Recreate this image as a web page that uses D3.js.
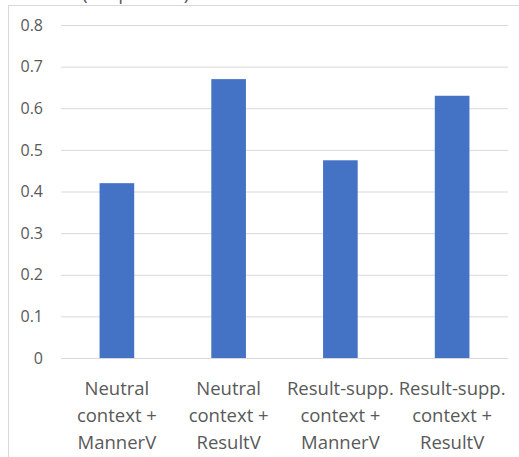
<!DOCTYPE html>
<html>
<head>
<meta charset="utf-8">
<script src="https://cdn.jsdelivr.net/npm/d3@7/dist/d3.min.js"></script>
<style>
  html, body { margin: 0; padding: 0; background: #fff; }
  svg { display: block; }
  text { font-family: "Open Sans", "Noto Sans", sans-serif; fill: #595959; }
</style>
</head>
<body>
<script>
// Chart data
const categories = [
  ["Neutral", "context +", "MannerV"],
  ["Neutral", "context +", "ResultV"],
  ["Result-supp.", "context +", "MannerV"],
  ["Result-supp.", "context +", "ResultV"]
];
const values = [0.42, 0.67, 0.475, 0.63];
const yTicks = [0, 0.1, 0.2, 0.3, 0.4, 0.5, 0.6, 0.7, 0.8];
const yTitle = "(Proportion)";

const W = 519, H = 457;
const plot = { left: 61, right: 508, top: 25, bottom: 358 };

const svg = d3.select("body").append("svg")
  .attr("width", W).attr("height", H);

// Chart frame (top and left edges)
svg.append("line")
  .attr("x1", 8.5).attr("x2", 8.5).attr("y1", 5).attr("y2", H)
  .attr("stroke", "#d9d9d9").attr("stroke-width", 1);
svg.append("line")
  .attr("x1", 8).attr("x2", W).attr("y1", 5.5).attr("y2", 5.5)
  .attr("stroke", "#d9d9d9").attr("stroke-width", 1);

// Axis title, mostly above the visible area
svg.append("text")
  .attr("x", 82).attr("y", 0)
  .attr("font-size", 19)
  .attr("fill", "#404040")
  .text(yTitle);

const x = d3.scaleBand()
  .domain(d3.range(categories.length))
  .range([plot.left, plot.right])
  .paddingInner(0.69)
  .paddingOuter(0.345);

const y = d3.scaleLinear()
  .domain([0, 0.8])
  .range([plot.bottom, plot.top]);

// Value axis with gridlines
const yAxis = svg.append("g")
  .attr("transform", `translate(${plot.left},0)`)
  .call(d3.axisLeft(y)
    .tickValues(yTicks)
    .tickSize(-(plot.right - plot.left))
    .tickPadding(18)
    .tickFormat(d => d === 0 ? "0" : d3.format(".1f")(d)));
yAxis.select(".domain").remove();
yAxis.selectAll(".tick line")
  .attr("stroke", "#d9d9d9").attr("stroke-width", 1);
yAxis.selectAll(".tick text")
  .attr("font-size", 16)
  .attr("font-family", "'Open Sans', 'Noto Sans', sans-serif")
  .attr("fill", "#595959");

// Bars
svg.append("g").selectAll("rect")
  .data(values)
  .join("rect")
  .attr("x", (d, i) => x(i))
  .attr("width", x.bandwidth())
  .attr("y", d => y(d))
  .attr("height", d => y(0) - y(d))
  .attr("fill", "#4472c4");

// Category labels
const lineBaselines = [395, 422, 449];
const catG = svg.append("g");
categories.forEach((lines, i) => {
  const t = catG.append("text")
    .attr("text-anchor", "middle")
    .attr("font-size", 18.5);
  lines.forEach((ln, j) => {
    t.append("tspan")
      .attr("x", x(i) + x.bandwidth() / 2)
      .attr("y", lineBaselines[j])
      .text(ln);
  });
});
</script>
</body>
</html>
